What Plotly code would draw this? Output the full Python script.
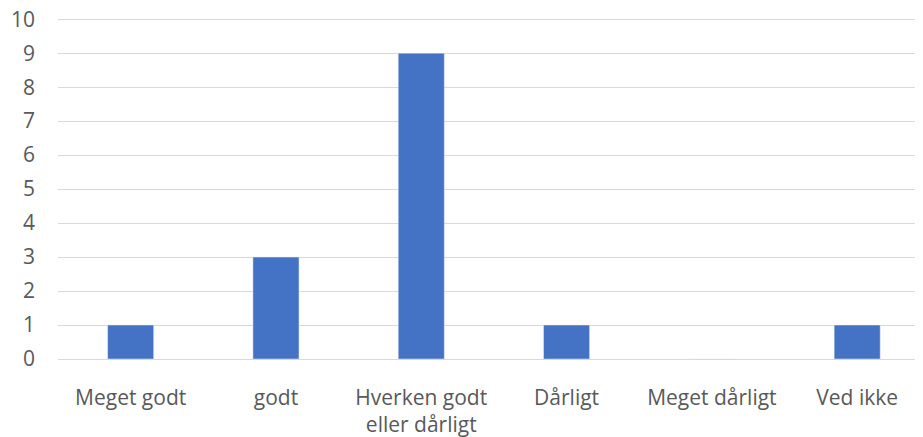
import plotly.graph_objects as go

# survey answers and counts
categories = ["Meget godt", "godt", "Hverken godt<br>eller dårligt", "Dårligt", "Meget dårligt", "Ved ikke"]
counts = [1, 3, 9, 1, 0, 1]
y_ticks = list(range(0, 11))

fig = go.Figure()
fig.add_trace(go.Bar(x=categories, y=counts, marker_color="#4472c4", width=0.317))

# page body adds 8px offset, so margins are shifted
fig.update_layout(
    width=923, height=437,
    margin=dict(l=50, r=8, t=1, b=86, autoexpand=False),
    paper_bgcolor="white", plot_bgcolor="white",
    font=dict(family="Open Sans", size=21, color="#595959"),
    showlegend=False,
)
fig.update_xaxes(range=[-0.5, 5.453], showgrid=False, showline=False, ticks="",
                 ticklabelstandoff=24, automargin=False)
fig.update_yaxes(range=[0, 10.3], tickvals=y_ticks, showgrid=True, gridcolor="#d9d9d9",
                 gridwidth=1, zeroline=True, zerolinecolor="#d9d9d9", zerolinewidth=1,
                 ticks="", ticklabelstandoff=22, automargin=False,
                 ticklabeloverflow="allow")

fig.write_html("out.html")
